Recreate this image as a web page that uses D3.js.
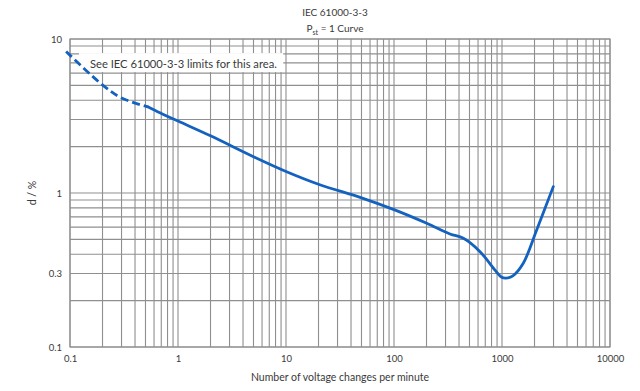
<!DOCTYPE html>
<html>
<head>
<meta charset="utf-8">
<script src="https://cdn.jsdelivr.net/npm/d3@7"></script>
<style>
  body { margin: 0; background: #fff; }
  text { font-family: Lato, "Open Sans", sans-serif; fill: #3a3a3a; }
</style>
</head>
<body>
<svg id="chart" width="640" height="391"></svg>
<script>
// x tick labels and y tick labels
const xTickLabels = [0.1, 1, 10, 100, 1000, 10000];
const yTickLabels = [0.1, 0.3, 1, 10];

// [changes per minute, d %]
const dashedCurve = [
    [0.092, 8.3], [0.2, 5.03], [0.3, 4.14], [0.53, 3.62]
];
const solidCurve = [
    [0.53, 3.62], [0.68, 3.32], [1, 2.93], [2, 2.35], [5, 1.72], [10, 1.38],
    [20, 1.14], [50, 0.93], [100, 0.78], [201, 0.636], [330, 0.542], [439, 0.508],
    [626, 0.416], [861, 0.316], [993, 0.284], [1089, 0.28], [1260, 0.29],
    [1574, 0.35], [2094, 0.575], [2985, 1.10]
];

const note = 'See IEC 61000-3-3 limits for this area.';

const margin = { top: 39, right: 30, bottom: 44, left: 70 };
const width = 640 - margin.left - margin.right;
const height = 391 - margin.top - margin.bottom;

const svg = d3.select('#chart');
const g = svg.append('g').attr('transform', `translate(${margin.left},${margin.top})`);

const x = d3.scaleLog().domain([0.1, 10000]).range([0, width]);
const y = d3.scaleLog().domain([0.1, 10]).range([height, 0]);

// grid
const gridColor = '#8f8f8f';
g.append('g').selectAll('line')
    .data(x.ticks())
    .join('line')
    .attr('x1', d => x(d)).attr('x2', d => x(d))
    .attr('y1', 0).attr('y2', height)
    .attr('stroke', gridColor).attr('stroke-width', 1.1);

g.append('g').selectAll('line')
    .data(y.ticks())
    .join('line')
    .attr('x1', 0).attr('x2', width)
    .attr('y1', d => y(d)).attr('y2', d => y(d))
    .attr('stroke', gridColor).attr('stroke-width', 1.1);

g.append('rect')
    .attr('width', width).attr('height', height)
    .attr('fill', 'none').attr('stroke', gridColor).attr('stroke-width', 1.1);

// annotation box
const noteText = g.append('text')
    .attr('x', x(0.153)).attr('y', y(6.45))
    .attr('font-size', 11.2)
    .text(note);
const bb = noteText.node().getBBox();
g.insert('rect', 'text')
    .attr('x', bb.x - 11).attr('y', y(8.1))
    .attr('width', bb.width + 17).attr('height', y(6.1) - y(8.1))
    .attr('fill', '#fff');

// axes labels
const xAxis = d3.axisBottom(x).tickValues(xTickLabels).tickSize(0).tickPadding(8)
    .tickFormat(d3.format('~g'));
g.append('g').attr('transform', `translate(0,${height})`).call(xAxis)
    .call(s => s.select('.domain').remove())
    .call(s => s.selectAll('text').attr('font-size', 9.5).attr('font-family', null).attr('fill', '#3a3a3a'));

const yAxis = d3.axisLeft(y).tickValues(yTickLabels).tickSize(0).tickPadding(8)
    .tickFormat(d3.format('~g'));
g.append('g').call(yAxis)
    .call(s => s.select('.domain').remove())
    .call(s => s.selectAll('text').attr('font-size', 9.5).attr('font-family', null).attr('fill', '#3a3a3a'));

// curve
const line = d3.line()
    .x(d => x(d[0]))
    .y(d => y(d[1]))
    .curve(d3.curveCatmullRom.alpha(0.5));

const blue = '#1462c0';
g.append('path').datum(dashedCurve)
    .attr('d', line)
    .attr('fill', 'none').attr('stroke', blue).attr('stroke-width', 2.8)
    .attr('stroke-dasharray', '8,4');
g.append('path').datum(solidCurve)
    .attr('d', line)
    .attr('fill', 'none').attr('stroke', blue).attr('stroke-width', 2.8)
    .attr('stroke-linecap', 'round');

// titles
svg.append('text').attr('x', 335).attr('y', 16)
    .attr('text-anchor', 'middle').attr('font-size', 10)
    .text('IEC 61000-3-3');
const sub = svg.append('text').attr('x', 335).attr('y', 32)
    .attr('text-anchor', 'middle').attr('font-size', 10);
sub.append('tspan').text('P');
sub.append('tspan').attr('font-size', 7).attr('dy', 2.5).text('st');
sub.append('tspan').attr('dy', -2.5).text(' = 1 Curve');

svg.append('text')
    .attr('transform', `translate(36,${margin.top + y(1)}) rotate(-90)`)
    .attr('text-anchor', 'middle').attr('font-size', 10.5)
    .text('d / %');

svg.append('text')
    .attr('x', margin.left + width / 2).attr('y', 381)
    .attr('text-anchor', 'middle').attr('font-size', 10.5)
    .text('Number of voltage changes per minute');
</script>
</body>
</html>
